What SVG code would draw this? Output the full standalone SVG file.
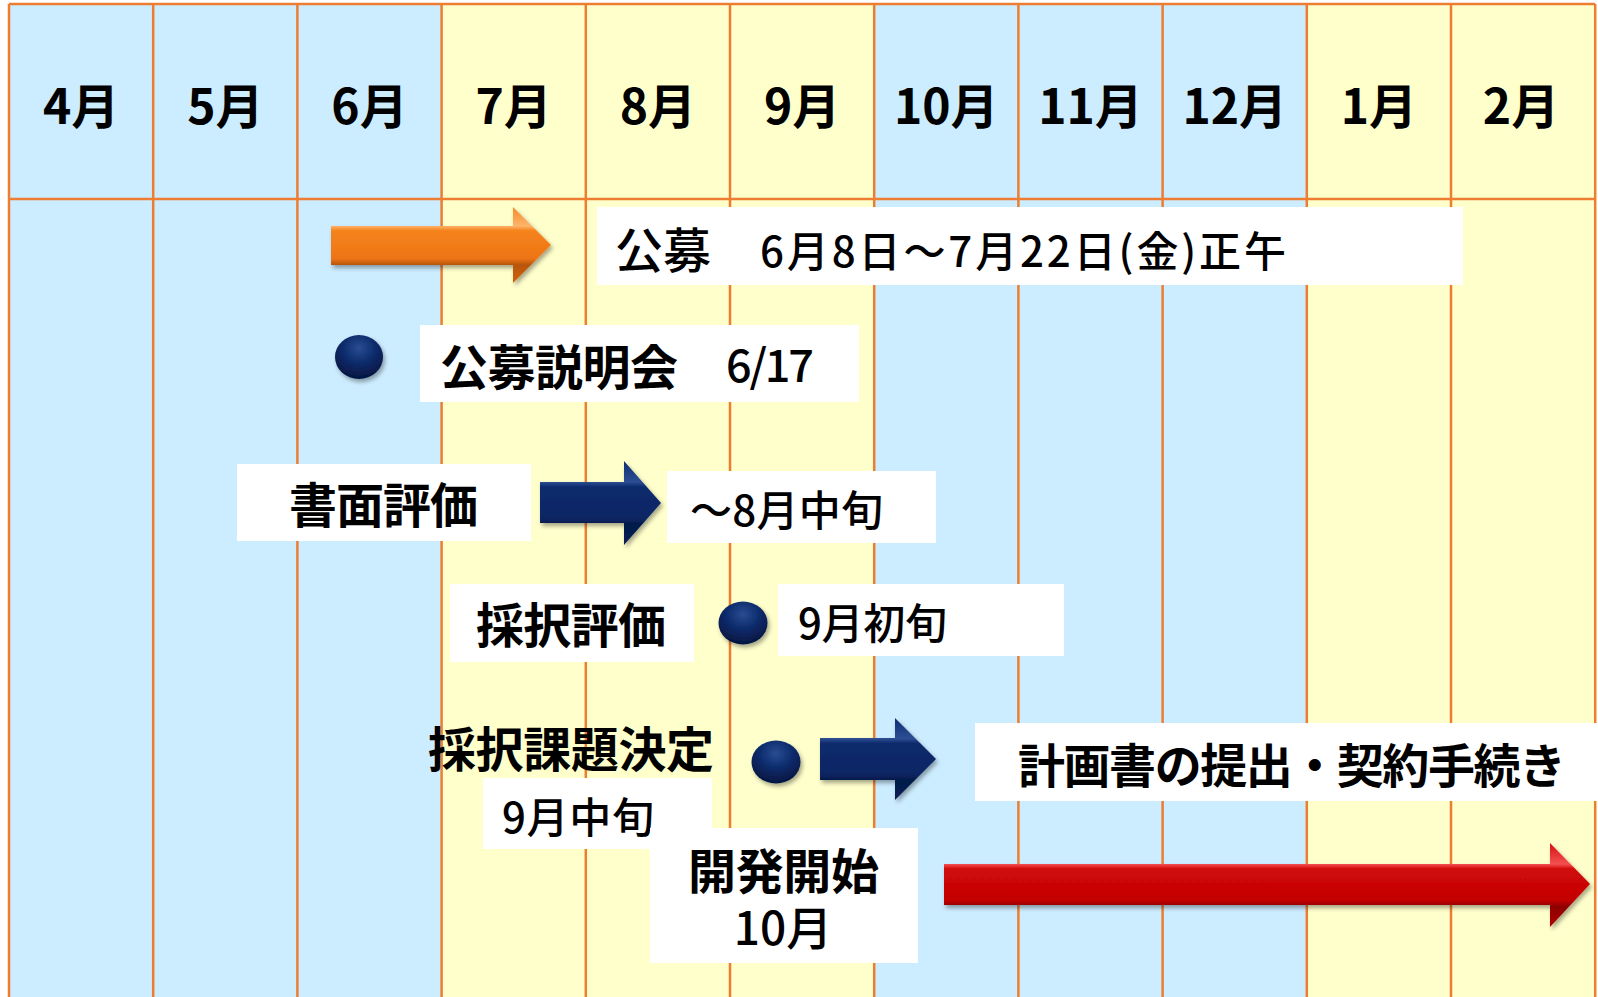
<svg xmlns="http://www.w3.org/2000/svg" width="1598" height="997" viewBox="0 0 1598 997">
<style>
.blue{fill:#CCECFF}
.yel{fill:#FFFFCC}
.grid{stroke:#ED7D31;stroke-width:2.5;fill:none}
.box{fill:#FFFFFF}
.t{font-family:"Noto Sans CJK JP","Noto Sans CJK SC",sans-serif;fill:#000000}
.hd{font-size:48px;font-weight:700;text-anchor:middle}
.lb{font-size:48px;font-weight:700}
.md{font-size:48px;font-weight:500}
.dt{font-size:42px;font-weight:500}
</style>
<defs>
<linearGradient id="gOrange" x1="0" y1="0" x2="0" y2="1">
<stop offset="0" stop-color="#F58A2A"/>
<stop offset="0.25" stop-color="#FDB46A"/>
<stop offset="0.31" stop-color="#F5841E"/>
<stop offset="0.68" stop-color="#EE7414"/>
<stop offset="0.76" stop-color="#B8560E"/>
<stop offset="1" stop-color="#D0620E"/>
</linearGradient>
<linearGradient id="gNavy" x1="0" y1="0" x2="0" y2="1">
<stop offset="0" stop-color="#0E2E72"/>
<stop offset="0.25" stop-color="#2E4E92"/>
<stop offset="0.31" stop-color="#0C2A6C"/>
<stop offset="0.68" stop-color="#0A2664"/>
<stop offset="0.76" stop-color="#051A4A"/>
<stop offset="1" stop-color="#081F58"/>
</linearGradient>
<linearGradient id="gRed" x1="0" y1="0" x2="0" y2="1">
<stop offset="0" stop-color="#D41010"/>
<stop offset="0.25" stop-color="#F45050"/>
<stop offset="0.31" stop-color="#D00808"/>
<stop offset="0.68" stop-color="#C40404"/>
<stop offset="0.76" stop-color="#8E0000"/>
<stop offset="1" stop-color="#B00000"/>
</linearGradient>
<radialGradient id="gDot" cx="0.5" cy="0.3" r="0.65">
<stop offset="0" stop-color="#2A4C92"/>
<stop offset="0.55" stop-color="#0B2A6A"/>
<stop offset="1" stop-color="#061845"/>
</radialGradient>
<filter id="sh" x="-20%" y="-30%" width="150%" height="170%">
<feDropShadow dx="2" dy="3" stdDeviation="2.2" flood-color="#000000" flood-opacity="0.35"/>
</filter>
</defs>

<g id="background">
<rect x="9" y="4" width="432.6" height="993" class="blue"/>
<rect x="441.6" y="4" width="432.6" height="993" class="yel"/>
<rect x="874.2" y="4" width="432.6" height="993" class="blue"/>
<rect x="1306.8" y="4" width="288.4" height="993" class="yel"/>
<path class="grid" d="M9,4V997M153.2,4V997M297.4,4V997M441.6,4V997M585.8,4V997M730,4V997M874.2,4V997M1018.4,4V997M1162.6,4V997M1306.8,4V997M1451,4V997M1595.2,4V997M9,4H1595.2M9,199H1595.2"/>
</g>

<g id="months">
<text class="t hd" x="81.1" y="124">4月</text>
<text class="t hd" x="225.3" y="124">5月</text>
<text class="t hd" x="369.5" y="124">6月</text>
<text class="t hd" x="513.7" y="124">7月</text>
<text class="t hd" x="657.9" y="124">8月</text>
<text class="t hd" x="802.1" y="124">9月</text>
<text class="t hd" x="946.3" y="124">10月</text>
<text class="t hd" x="1090.5" y="124">11月</text>
<text class="t hd" x="1234.7" y="124">12月</text>
<text class="t hd" x="1378.9" y="124">1月</text>
<text class="t hd" x="1521" y="124">2月</text>
</g>

<g id="connectors">
<polygon id="arrow-koubo" points="331,226 513,226 513,207 551,245 513,283 513,265 331,265" fill="url(#gOrange)" filter="url(#sh)"/>
<polygon id="arrow-shomen" points="540,482 624,482 624,461 661,503 624,545 624,523 540,523" fill="url(#gNavy)" filter="url(#sh)"/>
<polygon id="arrow-keiyaku" points="820,738 895,738 895,718 936,759 895,800 895,780 820,780" fill="url(#gNavy)" filter="url(#sh)"/>
<polygon id="arrow-kaihatsu" points="944,864 1550,864 1550,843 1590,884 1550,927 1550,905 944,905" fill="url(#gRed)" filter="url(#sh)"/>
</g>

<g id="node-koubo">
<rect class="box" x="597" y="207" width="866" height="78"/>
<text class="t md" x="615" y="268">公募</text>
<text class="t dt" x="760" y="267" textLength="526">6月8日～7月22日(金)正午</text>
</g>

<g id="node-setsumeikai">
<ellipse cx="359" cy="357" rx="24" ry="22" fill="url(#gDot)" filter="url(#sh)"/>
<rect class="box" x="420" y="325" width="439" height="77"/>
<text class="t lb" x="440" y="385" textLength="238">公募説明会</text>
<text class="t dt" x="726" y="382" style="font-size:45px" textLength="88">6/17</text>
</g>

<g id="node-shomen">
<rect class="box" x="237" y="464" width="294" height="77"/>
<text class="t lb" x="289" y="523" textLength="189">書面評価</text>
<rect class="box" x="667" y="471" width="269" height="72"/>
<text class="t dt" x="690" y="526" textLength="193">～8月中旬</text>
</g>

<g id="node-saitaku">
<rect class="box" x="450" y="584" width="244" height="78"/>
<text class="t lb" x="476" y="643" textLength="190">採択評価</text>
<ellipse cx="743" cy="623" rx="24.5" ry="21.5" fill="url(#gDot)" filter="url(#sh)"/>
<rect class="box" x="778" y="584" width="286" height="72"/>
<text class="t dt" x="798" y="639" textLength="149">9月初旬</text>
</g>

<g id="node-kettei">
<text class="t lb" x="428" y="767" textLength="286">採択課題決定</text>
<rect class="box" x="483" y="778" width="229" height="71"/>
<text class="t dt" x="502" y="833" textLength="152">9月中旬</text>
<ellipse cx="776" cy="762" rx="24.5" ry="21.5" fill="url(#gDot)" filter="url(#sh)"/>
</g>

<g id="node-keiyaku">
<rect class="box" x="975" y="723" width="623" height="78"/>
<text class="t lb" x="1018" y="783" style="font-size:47px" textLength="548">計画書の提出・契約手続き</text>
</g>

<g id="node-kaihatsu">
<rect class="box" x="650" y="828" width="268" height="135"/>
<text class="t lb" x="688" y="889" textLength="191">開発開始</text>
<text class="t md" x="783" y="945" style="font-size:46px" text-anchor="middle">10月</text>
</g>
</svg>
